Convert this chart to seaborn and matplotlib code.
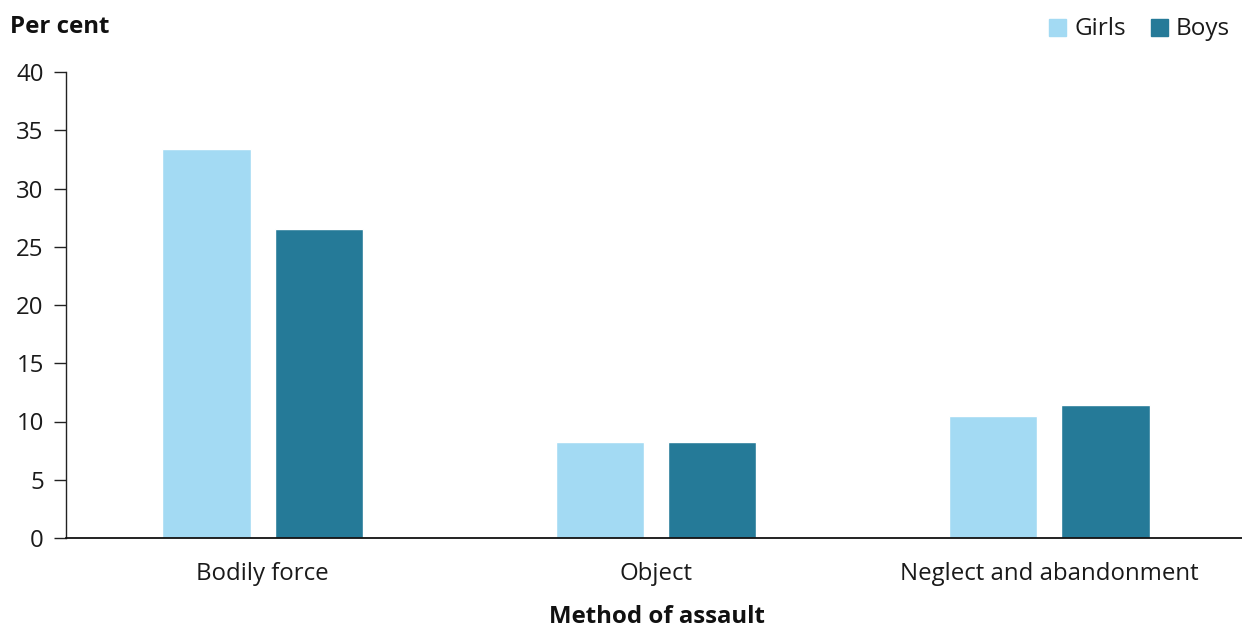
import numpy as np
import pandas as pd
import matplotlib
matplotlib.use('Agg')
import matplotlib.pyplot as plt
import seaborn as sns

CATEGORIES = ['Bodily force', 'Object', 'Neglect and abandonment']
GIRLS = [33.4, 8.2, 10.5]
BOYS = [26.5, 8.2, 11.4]
SERIES = ['Girls', 'Boys']
COLORS = {'Girls': '#A3DAF3', 'Boys': '#257A98'}
Y_TICKS = [0, 5, 10, 15, 20, 25, 30, 35, 40]

sns.set_theme(style='white')
plt.rcParams['font.family'] = ['Open Sans', 'DejaVu Sans']

df = pd.DataFrame({
    'method': CATEGORIES * 2,
    'sex': ['Girls'] * len(CATEGORIES) + ['Boys'] * len(CATEGORIES),
    'value': GIRLS + BOYS,
})

fig = plt.figure(figsize=(12.42, 6.28), dpi=100)
ax = fig.add_axes([66 / 1242, 90 / 628, 1180 / 1242, 466 / 628])

sns.barplot(data=df, x='method', y='value', hue='sex', hue_order=SERIES,
            palette=COLORS, width=0.572, gap=0.215, saturation=1,
            legend=False, ax=ax)

ax.set_ylim(0, 40)
ax.set_xlim(-0.5, 2.5)
ax.set_yticks(Y_TICKS)
ax.tick_params(axis='y', which='both', left=True, length=9, width=1, color='#222222',
               labelsize=17.3, pad=7, labelcolor='#1a1a1a')
ax.tick_params(axis='x', bottom=False, labelsize=17.3, pad=11, labelcolor='#1a1a1a')
for side in ['top', 'right']:
    ax.spines[side].set_visible(False)
ax.spines['left'].set_color('#222222')
ax.spines['left'].set_linewidth(1)
ax.spines['bottom'].set_color('#111111')
ax.spines['bottom'].set_linewidth(1.3)
ax.set_xlabel('')
ax.set_ylabel('')

fig.text(10 / 1242, 1 - 27 / 628, 'Per cent', fontsize=17.3, fontweight='bold',
         ha='left', va='center', color='#111111')
fig.text(657 / 1242, 1 - 617 / 628, 'Method of assault', fontsize=17.3, fontweight='bold',
         ha='center', va='center', color='#111111')

# legend: colour squares at top right
for label, x_sq, x_txt in [('Girls', 1049, 1074), ('Boys', 1151, 1176)]:
    fig.patches.append(plt.Rectangle((x_sq / 1242, 1 - 36 / 628), 17 / 1242, 17 / 628,
                                     transform=fig.transFigure, color=COLORS[label],
                                     figure=fig))
    fig.text(x_txt / 1242, 1 - 29 / 628, label, fontsize=17.5, ha='left', va='center',
             color='#1a1a1a')

fig.savefig('out.png', dpi=100)
